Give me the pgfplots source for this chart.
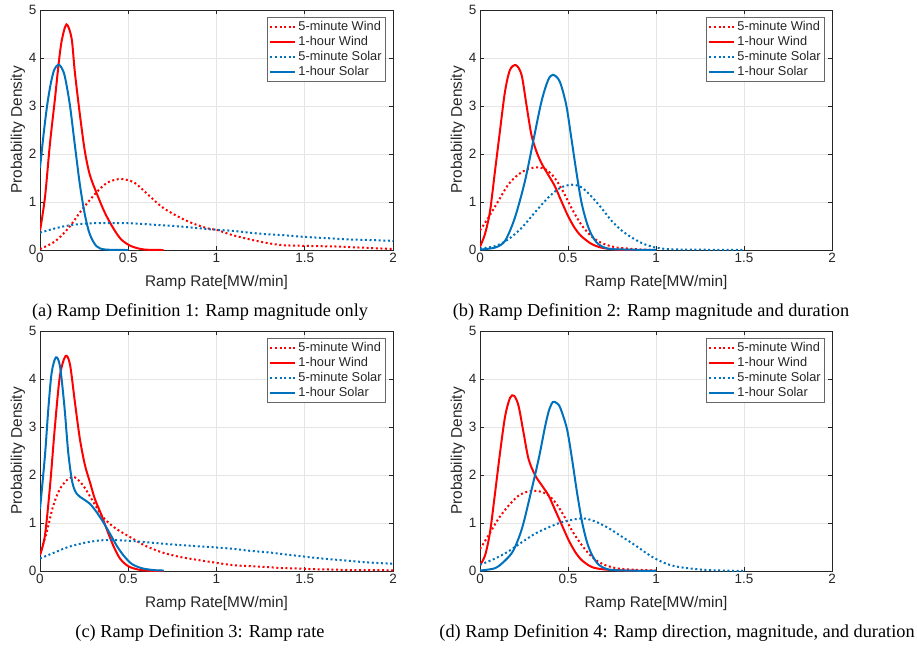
\documentclass[border=0pt]{standalone}
\usepackage{fontspec}
\setmainfont{Liberation Serif}
\setsansfont{Liberation Sans}
\usepackage{pgfplots}
\pgfplotsset{compat=1.18}
\definecolor{mred}{rgb}{1,0,0}
\definecolor{mblue}{rgb}{0,0.447,0.741}
\definecolor{axgray}{rgb}{0.15,0.15,0.15}
\definecolor{gridgray}{rgb}{0.9,0.9,0.9}

\pgfplotsset{
  rampax/.style={
    scale only axis, width=353pt, height=240pt,
    xmin=0, xmax=2, ymin=0, ymax=5,
    xtick={0,0.5,1,1.5,2}, ytick={0,1,2,3,4,5},
    xticklabels={0,0.5,1,1.5,2},
    tick align=inside, tick pos=both, major tick length=4pt,
    axis line style={axgray, line width=0.7pt},
    every tick/.style={axgray, line width=0.7pt},
    grid=major, major grid style={gridgray, line width=0.6pt},
    /pgf/number format/assume math mode=true,
    ticklabel style={font=\sffamily\fontsize{13.5}{14}\selectfont, text=axgray},
    xlabel={Ramp Rate[MW/min]}, ylabel={Probability Density},
    xlabel style={at={([yshift=-33pt]axis description cs:0.5,0)}, anchor=center,
      font=\sffamily\fontsize{15.4}{16}\selectfont, text=axgray},
    ylabel style={at={([xshift=-22pt]axis description cs:0,0.5)}, anchor=center, rotate=0,
      font=\sffamily\fontsize{15.4}{16}\selectfont, text=axgray},
    legend style={at={(rel axis cs:0.98,0.97)}, anchor=north east,
      draw=axgray!70, line width=0.6pt, fill=white,
      font=\sffamily\fontsize{12.8}{13}\selectfont, text=axgray,
      row sep=0.2pt, inner sep=2pt, cells={anchor=west}},
    legend image code/.code={\draw[##1] (0pt,0pt) -- (25pt,0pt);},
  },
  dotl/.style={line width=2pt, dash pattern=on 2pt off 2.6pt, smooth, tension=0.5},
  soll/.style={line width=2pt, smooth, tension=0.5},
}

\begin{document}
\begin{tikzpicture}
\path[use as bounding box] (0pt,0pt) rectangle (917pt,-650pt);

% ---------------- (a)
\begin{axis}[rampax, at={(40pt,-10pt)}, anchor=north west]
\addplot[mred, dotl] coordinates {(0,0.02) (0.085,0.18) (0.16,0.45) (0.24,0.85) (0.32,1.2) (0.385,1.41) (0.46,1.48) (0.536,1.40) (0.61,1.16) (0.686,0.91) (0.76,0.74) (0.855,0.57) (0.95,0.45) (1.0,0.42) (1.09,0.31) (1.19,0.22) (1.28,0.15) (1.375,0.10) (1.47,0.09) (1.56,0.08) (1.66,0.075) (1.75,0.06) (1.85,0.045) (2.0,0.02)};
\addlegendentry{5-minute Wind}
\addplot[mred, soll] coordinates {(0,0.40) (0.028,1.09) (0.056,2.2) (0.085,3.16) (0.103,3.79) (0.122,4.34) (0.150,4.70) (0.179,4.41) (0.197,3.72) (0.226,2.82) (0.254,2.06) (0.282,1.57) (0.32,1.19) (0.367,0.78) (0.414,0.46) (0.46,0.22) (0.517,0.08) (0.59,0.01) (0.7,0)};
\addlegendentry{1-hour Wind}
\addplot[mblue, dotl] coordinates {(0,0.36) (0.085,0.45) (0.16,0.51) (0.254,0.55) (0.35,0.56) (0.5,0.56) (0.63,0.53) (0.76,0.50) (0.91,0.45) (1.0,0.42) (1.09,0.40) (1.19,0.36) (1.28,0.33) (1.375,0.31) (1.47,0.28) (1.56,0.26) (1.66,0.24) (1.75,0.22) (1.85,0.21) (2.0,0.19)};
\addlegendentry{5-minute Solar}
\addplot[mblue, soll] coordinates {(0,1.71) (0.02,2.4) (0.04,3.0) (0.06,3.45) (0.08,3.75) (0.103,3.86) (0.122,3.8) (0.141,3.61) (0.169,3.03) (0.197,2.2) (0.226,1.36) (0.254,0.74) (0.282,0.33) (0.32,0.08) (0.37,0.01) (0.5,0)};
\addlegendentry{1-hour Solar}
\end{axis}

% ---------------- (b)
\begin{axis}[rampax, width=352pt, at={(480pt,-10pt)}, anchor=north west]
\addplot[mred, dotl] coordinates {(0,0.41) (0.047,0.67) (0.104,1.02) (0.16,1.36) (0.217,1.57) (0.274,1.69) (0.33,1.72) (0.377,1.67) (0.425,1.5) (0.472,1.22) (0.519,0.88) (0.575,0.53) (0.632,0.29) (0.689,0.15) (0.764,0.06) (0.84,0.03) (0.915,0.01) (1.0,0)};
\addlegendentry{5-minute Wind}
\addplot[mred, soll] coordinates {(0,0.07) (0.028,0.33) (0.057,0.81) (0.085,1.64) (0.113,2.47) (0.142,3.3) (0.17,3.75) (0.204,3.85) (0.236,3.65) (0.264,3.02) (0.292,2.4) (0.32,2.06) (0.349,1.81) (0.387,1.57) (0.425,1.33) (0.462,1.02) (0.5,0.71) (0.538,0.46) (0.575,0.29) (0.632,0.13) (0.689,0.05) (0.764,0.01) (0.85,0) (1.0,0)};
\addlegendentry{1-hour Wind}
\addplot[mblue, dotl] coordinates {(0,0.03) (0.085,0.08) (0.16,0.22) (0.236,0.46) (0.311,0.78) (0.387,1.09) (0.453,1.29) (0.519,1.36) (0.575,1.31) (0.632,1.12) (0.689,0.88) (0.745,0.62) (0.8,0.42) (0.858,0.27) (0.91,0.16) (0.95,0.10) (1.0,0.05) (1.06,0.02) (1.14,0.01) (1.5,0)};
\addlegendentry{5-minute Solar}
\addplot[mblue, soll] coordinates {(0,0.01) (0.085,0.05) (0.142,0.19) (0.198,0.67) (0.255,1.43) (0.302,2.26) (0.349,3.09) (0.387,3.54) (0.415,3.65) (0.453,3.51) (0.49,3.02) (0.519,2.33) (0.547,1.64) (0.575,1.02) (0.604,0.6) (0.632,0.33) (0.67,0.13) (0.726,0.03) (0.82,0.01) (1.0,0)};
\addlegendentry{1-hour Solar}
\end{axis}

% ---------------- (c)
\begin{axis}[rampax, at={(40pt,-331pt)}, anchor=north west]
\addplot[mred, dotl] coordinates {(0,0.36) (0.038,0.81) (0.075,1.36) (0.113,1.71) (0.16,1.92) (0.198,1.95) (0.245,1.78) (0.292,1.5) (0.349,1.16) (0.406,0.95) (0.462,0.81) (0.519,0.69) (0.594,0.53) (0.689,0.39) (0.783,0.3) (0.877,0.24) (1.0,0.17) (1.097,0.12) (1.19,0.10) (1.29,0.08) (1.38,0.06) (1.475,0.05) (1.57,0.035) (1.66,0.03) (1.76,0.02) (2.0,0.015)};
\addlegendentry{5-minute Wind}
\addplot[mred, soll] coordinates {(0,0.33) (0.028,0.74) (0.057,1.78) (0.085,3.03) (0.113,4.07) (0.145,4.48) (0.17,4.3) (0.198,3.51) (0.226,2.75) (0.255,2.2) (0.283,1.85) (0.311,1.5) (0.349,1.16) (0.377,0.88) (0.415,0.53) (0.453,0.26) (0.5,0.1) (0.557,0.03) (0.62,0.005) (0.7,0)};
\addlegendentry{1-hour Wind}
\addplot[mblue, dotl] coordinates {(0,0.26) (0.085,0.39) (0.16,0.5) (0.255,0.59) (0.349,0.64) (0.443,0.64) (0.538,0.62) (0.632,0.59) (0.76,0.55) (0.877,0.52) (1.0,0.49) (1.1,0.46) (1.19,0.42) (1.29,0.39) (1.38,0.35) (1.475,0.31) (1.57,0.27) (1.66,0.24) (1.76,0.21) (1.85,0.18) (2.0,0.15)};
\addlegendentry{5-minute Solar}
\addplot[mblue, soll] coordinates {(0,1.29) (0.028,2.4) (0.047,3.37) (0.066,4.13) (0.09,4.45) (0.113,4.27) (0.138,3.44) (0.16,2.47) (0.183,1.85) (0.208,1.61) (0.245,1.5) (0.283,1.4) (0.32,1.23) (0.358,1.02) (0.396,0.78) (0.434,0.53) (0.472,0.33) (0.519,0.15) (0.575,0.06) (0.64,0.02) (0.7,0.01)};
\addlegendentry{1-hour Solar}
\end{axis}

% ---------------- (d)
\begin{axis}[rampax, width=352pt, at={(480pt,-331pt)}, anchor=north west]
\addplot[mred, dotl] coordinates {(0,0.46) (0.048,0.74) (0.105,1.09) (0.162,1.36) (0.219,1.57) (0.276,1.66) (0.323,1.67) (0.38,1.6) (0.428,1.43) (0.475,1.16) (0.523,0.84) (0.58,0.53) (0.637,0.29) (0.694,0.15) (0.77,0.06) (0.865,0.03) (1.0,0.01)};
\addlegendentry{5-minute Wind}
\addplot[mred, soll] coordinates {(0,0.12) (0.029,0.33) (0.057,0.81) (0.086,1.64) (0.114,2.47) (0.143,3.23) (0.171,3.61) (0.194,3.65) (0.219,3.44) (0.247,2.89) (0.276,2.33) (0.314,1.99) (0.352,1.78) (0.39,1.57) (0.428,1.26) (0.466,0.95) (0.504,0.64) (0.542,0.39) (0.58,0.22) (0.637,0.08) (0.713,0.03) (0.827,0.01) (1.0,0)};
\addlegendentry{1-hour Wind}
\addplot[mblue, dotl] coordinates {(0,0.13) (0.086,0.26) (0.162,0.41) (0.238,0.6) (0.314,0.78) (0.39,0.91) (0.466,1.02) (0.542,1.08) (0.6,1.09) (0.656,1.03) (0.732,0.89) (0.808,0.71) (0.884,0.53) (0.95,0.36) (1.0,0.25) (1.06,0.15) (1.12,0.09) (1.2,0.05) (1.29,0.02) (1.38,0.01) (1.5,0)};
\addlegendentry{5-minute Solar}
\addplot[mblue, soll] coordinates {(0,0.01) (0.086,0.06) (0.143,0.22) (0.19,0.43) (0.238,0.88) (0.285,1.57) (0.333,2.33) (0.371,3.03) (0.393,3.36) (0.414,3.52) (0.435,3.5) (0.456,3.4) (0.494,2.96) (0.523,2.33) (0.551,1.64) (0.58,1.02) (0.608,0.6) (0.637,0.33) (0.675,0.13) (0.732,0.03) (0.827,0.01) (1.0,0)};
\addlegendentry{1-hour Solar}
\end{axis}

% captions
\node[font=\fontsize{18.3}{20}\selectfont, anchor=center] at (200pt,-312pt) {(a) Ramp Definition 1: Ramp magnitude only};
\node[font=\fontsize{18.3}{20}\selectfont, anchor=center] at (651pt,-312pt) {(b) Ramp Definition 2: Ramp magnitude and duration};
\node[font=\fontsize{18.3}{20}\selectfont, anchor=center] at (200pt,-633pt) {(c) Ramp Definition 3: Ramp rate};
\node[font=\fontsize{18.3}{20}\selectfont, anchor=center] at (677pt,-633pt) {(d) Ramp Definition 4: Ramp direction, magnitude, and duration};
\end{tikzpicture}
\end{document}
